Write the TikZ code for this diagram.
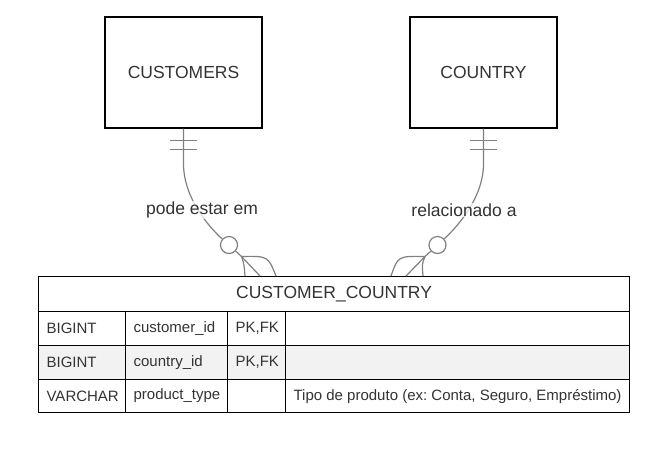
\documentclass[tikz,border=0pt]{standalone}
\usepackage{fontspec}
\setmainfont{Liberation Sans}
\usetikzlibrary{positioning,calc}
\frenchspacing
\definecolor{linegray}{HTML}{808080}
\definecolor{txtgray}{HTML}{333333}
\definecolor{rowgray}{HTML}{F2F2F2}
\tikzset{
  entity/.style={draw=black, line width=1.2pt, minimum width=157pt, minimum height=111pt,
    inner sep=0pt, text=txtgray, font=\fontsize{17.5}{21}\selectfont},
  cell/.style={draw=black, line width=1.2pt, anchor=north west, inner xsep=8pt, inner ysep=0pt,
    align=flush left, text=txtgray, font=\fontsize{15}{17}\selectfont},
  headcell/.style={draw=black, line width=1.2pt, anchor=north west, inner sep=0pt,
    minimum width=591pt, minimum height=35pt, text=txtgray, font=\fontsize{17.5}{21}\selectfont},
  rel/.style={draw=linegray, line width=1.2pt},
  zero/.style={circle, draw=linegray, line width=1.2pt, fill=white, minimum size=17pt, inner sep=0pt},
  lbl/.style={fill=white, fill opacity=0.75, text opacity=1, inner sep=1pt, text=txtgray,
    font=\fontsize{17.5}{21}\selectfont}
}
\begin{document}
\begin{tikzpicture}[x=1pt,y=-1pt]
  \useasboundingbox (0,0) rectangle (647,451);
  % entities
  \node[entity] (cust) at (183.5,72.5) {CUSTOMERS};
  \node[entity, minimum width=147pt] (cntry) at (483.5,72.5) {COUNTRY};
  % table CUSTOMER_COUNTRY
  \node[headcell] (head) at (38,276) {CUSTOMER\_COUNTRY};
  \node[cell, text width=71pt, minimum height=34pt] (a1) at (38,311) {BIGINT};
  \node[cell, text width=86pt, minimum height=34pt] (b1) at (125,311) {customer\_id};
  \node[cell, text width=42pt, minimum height=34pt] (c1) at (227,311) {PK,FK};
  \node[cell, text width=328pt, minimum height=34pt] (d1) at (285,311) {};
  \node[cell, fill=rowgray, text width=71pt, minimum height=34pt] (a2) at (38,345) {BIGINT};
  \node[cell, fill=rowgray, text width=86pt, minimum height=34pt] (b2) at (125,345) {country\_id};
  \node[cell, fill=rowgray, text width=42pt, minimum height=34pt] (c2) at (227,345) {PK,FK};
  \node[cell, fill=rowgray, text width=328pt, minimum height=34pt] (d2) at (285,345) {};
  \node[cell, text width=71pt, minimum height=33pt] (a3) at (38,379) {VARCHAR};
  \node[cell, text width=86pt, minimum height=33pt] (b3) at (125,379) {product\_type};
  \node[cell, text width=42pt, minimum height=33pt] (c3) at (227,379) {};
  \node[cell, text width=328pt, minimum height=33pt] (d3) at (285,379) {\mbox{Tipo de produto (ex: Conta, Seguro, Empréstimo)}};
  % CUSTOMERS -> CUSTOMER_COUNTRY
  \coordinate (k1) at (241.5,256.5);
  \coordinate (f1a) at (245,276);
  \coordinate (f1b) at (260,276);
  \coordinate (f1c) at (276,276);
  \node[zero] (o1) at (229,245) {};
  \draw[rel] (cust.south) -- ++(0,35) .. controls +(0,35) and (210,228) .. (o1);
  \draw[rel] ($(cust.south)+(-13.5,12)$) -- ++(27,0);
  \draw[rel] ($(cust.south)+(-13.5,21)$) -- ++(27,0);
  \draw[rel] (o1) -- (k1) -- (f1b);
  \draw[rel] (k1) .. controls (244,264) .. (f1a);
  \draw[rel] (k1) .. controls (268,256) .. (f1c);
  \node[lbl] (l1) at (202,210) {pode estar em};
  % COUNTRY -> CUSTOMER_COUNTRY
  \coordinate (k2) at (425,256.5);
  \coordinate (f2a) at (391,276);
  \coordinate (f2b) at (406,276);
  \coordinate (f2c) at (423,276);
  \node[zero] (o2) at (437.5,245) {};
  \draw[rel] (cntry.south) -- ++(0,35) .. controls +(0,35) and (456,228) .. (o2);
  \draw[rel] ($(cntry.south)+(-13.5,12)$) -- ++(27,0);
  \draw[rel] ($(cntry.south)+(-13.5,21)$) -- ++(27,0);
  \draw[rel] (o2) -- (k2) -- (f2b);
  \draw[rel] (k2) .. controls (422,264) .. (f2c);
  \draw[rel] (k2) .. controls (398,256) .. (f2a);
  \node[lbl] (l2) at (464,210) {relacionado a};
\end{tikzpicture}
\end{document}
